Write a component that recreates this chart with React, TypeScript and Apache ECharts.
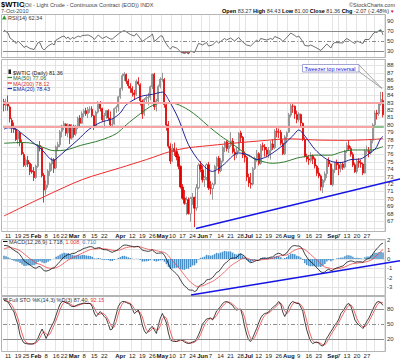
import React, { useEffect, useRef } from "react";
import * as echarts from "echarts";

// ---------------- data ----------------
// daily bars: [day, open, high, low, close]
const jan2010 = [
  [7, 83.1, 83.5, 81.8, 82.66], [8, 82.6, 83.5, 81.9, 82.75], [11, 82.9, 83.95, 81.9, 82.52],
  [12, 82.4, 82.6, 80.3, 80.79], [13, 80.6, 80.9, 78.9, 79.65], [14, 79.5, 80.3, 78.9, 79.39],
  [15, 79.4, 79.6, 77.8, 78.0], [19, 78.1, 79.2, 77.4, 79.02], [20, 78.9, 79.1, 77.1, 77.62],
  [21, 77.6, 78.0, 75.9, 76.08], [22, 76.0, 76.3, 74.3, 74.54], [25, 74.6, 75.6, 74.3, 75.26],
  [26, 75.2, 75.8, 74.3, 74.71], [27, 74.8, 75.0, 73.2, 73.67], [28, 73.8, 74.7, 73.4, 73.64],
  [29, 73.7, 74.3, 72.4, 72.89],
];
const feb2010 = [
  [1, 72.9, 74.6, 72.7, 74.43], [2, 74.4, 77.4, 74.2, 77.23], [3, 77.2, 77.8, 76.4, 76.98],
  [4, 76.9, 77.0, 72.9, 73.14], [5, 73.2, 73.5, 69.5, 71.19], [8, 71.3, 72.5, 70.6, 71.89],
  [9, 71.9, 74.0, 71.5, 73.75], [10, 73.7, 74.9, 73.1, 74.74], [11, 74.7, 75.6, 73.8, 75.28],
  [12, 75.3, 75.5, 73.5, 74.13], [16, 74.2, 77.2, 74.0, 77.01], [17, 77.0, 77.7, 76.5, 77.33],
  [18, 77.3, 79.3, 77.0, 79.06], [19, 79.1, 80.0, 78.3, 79.81], [22, 79.8, 80.5, 79.3, 80.16],
  [23, 80.1, 80.2, 78.5, 78.86], [24, 78.9, 80.2, 78.3, 80.0], [25, 80.0, 80.1, 77.4, 78.17],
  [26, 78.2, 80.1, 78.0, 79.66],
];
const mar2010 = [
  [1, 79.6, 80.0, 78.3, 78.7], [2, 78.8, 80.0, 78.5, 79.68], [3, 79.7, 81.1, 79.4, 80.87],
  [4, 80.9, 81.3, 79.8, 80.21], [5, 80.2, 81.8, 80.1, 81.5], [8, 81.5, 82.1, 81.0, 81.87],
  [9, 81.9, 82.3, 81.2, 81.49], [10, 81.5, 82.4, 80.9, 82.09], [11, 82.1, 82.5, 81.6, 82.11],
  [12, 82.1, 82.5, 81.0, 81.24], [15, 81.2, 81.3, 79.3, 79.8], [16, 79.8, 81.9, 79.7, 81.7],
  [17, 81.7, 83.2, 81.5, 82.93], [18, 82.9, 83.2, 81.8, 82.2], [19, 82.2, 82.3, 80.4, 80.68],
  [22, 80.6, 81.6, 79.5, 81.25], [23, 81.2, 82.0, 80.8, 81.91], [24, 81.9, 82.1, 80.6, 80.91],
  [25, 80.9, 81.8, 79.8, 80.0], [26, 80.0, 80.9, 79.6, 80.02], [29, 80.1, 82.3, 80.0, 82.17],
  [30, 82.2, 82.6, 81.6, 82.37], [31, 82.4, 83.9, 81.8, 83.76],
];
const apr2010 = [
  [1, 83.8, 85.0, 83.5, 84.87], [5, 84.9, 86.9, 84.6, 86.62], [6, 86.6, 87.1, 85.9, 86.84],
  [7, 86.8, 86.9, 85.5, 85.88], [8, 85.9, 86.2, 84.9, 85.26], [9, 85.2, 85.6, 84.3, 84.92],
  [12, 84.9, 85.2, 83.8, 84.34], [13, 84.3, 84.7, 83.4, 84.05], [14, 84.1, 86.1, 83.9, 85.84],
  [15, 85.8, 86.4, 85.3, 85.51], [16, 85.4, 85.6, 82.6, 83.24], [19, 83.2, 83.4, 80.8, 81.45],
  [20, 81.5, 83.6, 81.2, 83.45], [21, 83.4, 84.0, 82.8, 83.68], [22, 83.6, 84.3, 82.6, 83.7],
  [23, 83.7, 85.3, 83.3, 85.12], [26, 85.1, 86.9, 84.8, 86.84], [27, 86.8, 87.0, 82.0, 82.44],
  [28, 82.4, 83.5, 81.8, 83.22], [29, 83.2, 85.4, 83.0, 85.17], [30, 85.2, 86.4, 84.9, 86.15],
];
const may2010 = [
  [3, 86.1, 87.0, 85.8, 86.19], [4, 86.1, 86.3, 82.3, 82.74], [5, 82.7, 83.0, 79.2, 79.97],
  [6, 80.0, 80.5, 76.8, 77.11], [7, 77.1, 77.5, 74.7, 75.11], [10, 75.1, 77.4, 75.0, 76.8],
  [11, 76.8, 77.6, 75.8, 76.37], [12, 76.4, 76.9, 75.2, 75.65], [13, 75.7, 76.1, 74.0, 74.39],
  [14, 74.4, 74.5, 71.4, 71.61], [17, 71.6, 72.0, 69.9, 70.08], [18, 70.1, 71.2, 69.2, 69.41],
  [19, 69.4, 70.3, 67.8, 69.87], [20, 69.9, 70.2, 67.9, 68.01], [21, 68.0, 70.3, 66.9, 70.04],
  [24, 70.0, 70.8, 69.2, 70.21], [25, 70.2, 70.3, 66.2, 68.75], [26, 68.8, 72.0, 68.4, 71.51],
  [27, 71.5, 74.8, 71.3, 74.55], [28, 74.6, 75.1, 73.6, 74.0],
];
const jun2010 = [
  [1, 73.9, 74.5, 72.2, 72.58], [2, 72.6, 73.1, 71.6, 72.86], [3, 72.9, 74.8, 72.5, 74.61],
  [4, 74.6, 75.0, 71.2, 71.51], [7, 71.5, 72.4, 70.6, 71.44], [8, 71.4, 72.2, 69.9, 71.99],
  [9, 72.0, 74.6, 71.8, 74.38], [10, 74.4, 75.7, 74.0, 75.48], [11, 75.5, 75.8, 73.4, 73.78],
  [14, 73.8, 75.5, 73.6, 75.12], [15, 75.1, 77.2, 74.9, 76.94], [16, 76.9, 77.8, 76.3, 77.67],
  [17, 77.7, 77.9, 76.4, 76.79], [18, 76.8, 77.6, 76.2, 77.18], [21, 77.2, 79.0, 77.0, 77.81],
  [22, 77.8, 78.2, 76.1, 76.35], [23, 76.3, 76.8, 75.2, 75.96], [24, 76.0, 77.0, 75.5, 76.51],
  [25, 76.5, 79.0, 76.3, 78.86], [28, 78.9, 79.2, 77.6, 78.26], [29, 78.3, 78.5, 75.5, 75.94],
  [30, 75.9, 76.4, 74.9, 75.63],
];
const jul2010 = [
  [1, 75.6, 75.8, 72.4, 72.95], [2, 72.9, 73.4, 71.6, 72.14], [6, 72.1, 73.5, 71.4, 71.98],
  [7, 72.0, 74.3, 71.8, 74.07], [8, 74.1, 75.7, 73.9, 75.44], [9, 75.4, 76.6, 75.0, 76.09],
  [12, 76.1, 76.3, 74.5, 74.78], [13, 74.8, 77.4, 74.6, 77.17], [14, 77.2, 77.6, 76.5, 77.04],
  [15, 77.0, 77.4, 75.7, 76.62], [16, 76.6, 77.0, 75.6, 76.01], [19, 76.0, 77.0, 75.5, 76.54],
  [20, 76.5, 77.8, 75.3, 77.44], [21, 77.4, 78.0, 76.6, 76.9], [22, 76.9, 79.4, 76.7, 79.14],
  [23, 79.1, 79.6, 78.3, 78.98], [26, 79.0, 79.5, 78.2, 78.99], [27, 79.0, 79.3, 77.2, 77.5],
  [28, 77.5, 78.0, 75.9, 76.09], [29, 76.1, 78.6, 75.9, 78.36], [30, 78.4, 79.1, 77.5, 78.95],
];
const aug2010 = [
  [2, 79.0, 81.6, 78.9, 81.34], [3, 81.3, 82.9, 81.0, 82.55], [4, 82.5, 83.0, 81.6, 82.49],
  [5, 82.5, 82.6, 80.8, 81.46], [6, 81.4, 81.9, 80.2, 80.7], [9, 80.7, 81.7, 80.4, 81.48],
  [10, 81.4, 81.5, 79.8, 80.25], [11, 80.2, 80.3, 77.8, 78.02], [12, 78.0, 78.3, 75.6, 75.74],
  [13, 75.7, 76.1, 75.0, 75.39], [16, 75.4, 75.9, 74.6, 75.24], [17, 75.2, 76.3, 74.9, 75.77],
  [18, 75.8, 76.0, 74.7, 75.37], [19, 75.4, 75.6, 74.1, 74.43], [20, 74.4, 74.6, 73.1, 73.46],
  [23, 73.5, 74.2, 72.8, 73.1], [24, 73.1, 73.3, 71.1, 71.63], [25, 71.6, 72.7, 70.8, 72.52],
  [26, 72.5, 73.7, 72.2, 73.36], [27, 73.4, 75.3, 72.8, 75.17], [30, 75.2, 75.6, 74.3, 74.7],
  [31, 74.7, 74.8, 71.9, 71.92],
];
const sep2010 = [
  [1, 71.9, 74.1, 71.7, 73.91], [2, 73.9, 75.0, 73.5, 74.91], [3, 74.9, 75.3, 73.9, 74.6],
  [7, 74.6, 75.0, 73.2, 74.09], [8, 74.1, 75.0, 73.6, 74.67], [9, 74.7, 75.0, 73.9, 74.25],
  [10, 74.3, 76.6, 74.1, 76.45], [13, 76.5, 77.6, 76.2, 77.19], [14, 77.2, 77.9, 76.5, 76.8],
  [15, 76.8, 77.1, 75.7, 76.02], [16, 76.0, 76.3, 74.3, 74.57], [17, 74.6, 74.9, 73.5, 73.66],
  [20, 73.7, 75.3, 73.4, 75.08], [21, 75.1, 75.5, 74.2, 74.86], [22, 74.9, 75.3, 74.2, 74.71],
  [23, 74.7, 74.9, 73.2, 73.51], [24, 73.5, 76.7, 73.4, 76.49], [27, 76.4, 77.2, 76.0, 76.52],
  [28, 76.5, 77.0, 75.6, 76.18], [29, 76.2, 78.1, 76.0, 77.86], [30, 77.9, 80.2, 77.5, 79.97],
];
const oct2010 = [
  [1, 80.0, 81.9, 79.7, 81.58], [4, 81.6, 82.0, 80.7, 81.47], [5, 81.5, 83.0, 81.2, 82.82],
  [6, 82.8, 84.45, 82.6, 83.43], [7, 83.27, 84.43, 81.0, 81.36],
];
const monthRows: [string, number[][]][] = [
  ["Jan", jan2010], ["Feb", feb2010], ["Mar", mar2010], ["Apr", apr2010], ["May", may2010],
  ["Jun", jun2010], ["Jul", jul2010], ["Aug", aug2010], ["Sep", sep2010], ["Oct", oct2010],
];

// overlays: [date, value]
const ma50 = [
  ["Jan 7", 77.5], ["Jan 20", 77.6], ["Jan 28", 77.5], ["Feb 4", 77.0], ["Feb 12", 76.5], ["Feb 23", 76.6],
  ["Mar 4", 77.2], ["Mar 18", 77.9], ["Mar 30", 78.8], ["Apr 7", 80.0], ["Apr 16", 81.5], ["Apr 26", 82.6],
  ["May 4", 83.0], ["May 12", 82.8], ["May 20", 82.0], ["May 27", 81.0], ["Jun 4", 79.8], ["Jun 14", 78.5],
  ["Jun 22", 77.4], ["Jul 1", 76.0], ["Jul 9", 75.3], ["Jul 16", 74.9], ["Jul 21", 74.8], ["Jul 29", 75.0],
  ["Aug 6", 75.5], ["Aug 12", 75.7], ["Aug 19", 75.9], ["Aug 31", 75.9], ["Sep 8", 76.3], ["Sep 16", 76.6],
  ["Sep 29", 76.6], ["Oct 7", 77.06],
];
const ma200 = [
  ["Jan 7", 67.7], ["Feb 5", 70.3], ["Mar 5", 72.6], ["Apr 1", 74.2], ["Apr 21", 75.3], ["May 7", 76.4],
  ["May 20", 76.9], ["Jun 1", 77.1], ["Jun 22", 77.5], ["Jul 16", 77.9], ["Aug 2", 78.1], ["Aug 19", 77.95],
  ["Sep 10", 77.9], ["Sep 29", 78.0], ["Oct 7", 78.12],
];
const ema20 = [
  ["Jan 7", 79.4], ["Jan 11", 79.6], ["Jan 15", 79.4], ["Jan 21", 78.8], ["Jan 28", 77.7], ["Feb 4", 76.6],
  ["Feb 10", 75.4], ["Feb 12", 75.2], ["Feb 16", 75.4], ["Feb 23", 76.6], ["Mar 3", 78.0], ["Mar 10", 79.3],
  ["Mar 18", 80.3], ["Mar 26", 80.8], ["Apr 1", 81.6], ["Apr 7", 82.7], ["Apr 16", 83.8], ["Apr 26", 84.1],
  ["May 3", 84.4], ["May 6", 83.4], ["May 13", 80.8], ["May 20", 77.3], ["May 28", 74.9], ["Jun 8", 73.7],
  ["Jun 15", 74.5], ["Jun 25", 76.2], ["Jul 2", 75.9], ["Jul 9", 75.3], ["Jul 16", 75.7], ["Jul 27", 77.0],
  ["Aug 4", 78.5], ["Aug 9", 79.3], ["Aug 12", 78.5], ["Aug 19", 76.7], ["Aug 26", 75.5], ["Sep 1", 75.0],
  ["Sep 8", 74.9], ["Sep 15", 75.3], ["Sep 22", 75.4], ["Sep 27", 75.9], ["Oct 1", 76.7], ["Oct 4", 77.1],
  ["Oct 5", 77.7], ["Oct 6", 78.2], ["Oct 7", 78.43],
];
const levelLines = [83.0, 79.75];

const rsi14 = [
  ["Jan 7", 72], ["Jan 11", 66], ["Jan 12", 56], ["Jan 14", 50], ["Jan 15", 45], ["Jan 19", 50], ["Jan 21", 42],
  ["Jan 22", 37], ["Jan 25", 40], ["Jan 27", 35], ["Jan 29", 33], ["Feb 2", 47], ["Feb 3", 46], ["Feb 4", 36],
  ["Feb 5", 32], ["Feb 9", 40], ["Feb 11", 45], ["Feb 12", 42], ["Feb 16", 52], ["Feb 19", 59], ["Feb 22", 60],
  ["Feb 23", 55], ["Feb 24", 58], ["Feb 25", 53], ["Feb 26", 57], ["Mar 1", 55], ["Mar 3", 60], ["Mar 4", 58],
  ["Mar 5", 61], ["Mar 10", 62], ["Mar 12", 58], ["Mar 15", 53], ["Mar 17", 62], ["Mar 19", 55], ["Mar 23", 59],
  ["Mar 25", 54], ["Mar 26", 54], ["Mar 31", 64], ["Apr 1", 67], ["Apr 6", 71], ["Apr 9", 63], ["Apr 13", 60],
  ["Apr 14", 65], ["Apr 16", 55], ["Apr 19", 49], ["Apr 21", 55], ["Apr 23", 60], ["Apr 26", 64], ["Apr 27", 49],
  ["Apr 30", 60], ["May 3", 60], ["May 4", 50], ["May 5", 44], ["May 6", 38], ["May 7", 34], ["May 10", 39],
  ["May 12", 36], ["May 13", 33], ["May 14", 28], ["May 18", 25], ["May 19", 27], ["May 20", 24], ["May 21", 30],
  ["May 25", 27], ["May 26", 36], ["May 27", 45], ["May 28", 44], ["Jun 1", 42], ["Jun 3", 47], ["Jun 4", 40],
  ["Jun 8", 42], ["Jun 10", 50], ["Jun 11", 46], ["Jun 16", 55], ["Jun 17", 52], ["Jun 21", 56], ["Jun 23", 50],
  ["Jun 25", 57], ["Jun 29", 48], ["Jul 1", 42], ["Jul 6", 40], ["Jul 9", 52], ["Jul 12", 48], ["Jul 13", 55],
  ["Jul 16", 52], ["Jul 20", 55], ["Jul 21", 53], ["Jul 22", 59], ["Jul 27", 54], ["Jul 28", 49], ["Jul 30", 57],
  ["Aug 3", 66], ["Aug 5", 61], ["Aug 6", 58], ["Aug 9", 60], ["Aug 11", 49], ["Aug 12", 41], ["Aug 16", 40],
  ["Aug 17", 42], ["Aug 20", 36], ["Aug 24", 31], ["Aug 27", 44], ["Aug 31", 36], ["Sep 1", 44], ["Sep 2", 47],
  ["Sep 9", 46], ["Sep 10", 52], ["Sep 13", 55], ["Sep 16", 47], ["Sep 17", 45], ["Sep 20", 50], ["Sep 23", 45],
  ["Sep 24", 53], ["Sep 28", 53], ["Sep 29", 58], ["Sep 30", 64], ["Oct 1", 68], ["Oct 4", 67], ["Oct 5", 71],
  ["Oct 6", 72.5], ["Oct 7", 62.34],
];
const rsiOversold = [["May 14", 28], ["May 18", 25], ["May 19", 27], ["May 20", 24], ["May 21", 30], ["May 25", 27]];
const rsiOverbought = [["Oct 5", 71], ["Oct 6", 72.5]];

const macdLine = [
  1.45, 1.45, 1.4, 1.3, 1.1, 0.95, 0.8, 0.7, 0.45, 0.15, -0.2, -0.35, -0.5, -0.65, -0.8, -0.95,
  -1.0, -0.85, -0.8, -1.05, -1.25, -1.3, -1.25, -1.15, -1.0, -0.95, -0.7, -0.5, -0.25, 0.0, 0.25, 0.35, 0.5, 0.5, 0.6,
  0.6, 0.7, 0.85, 0.9, 1.05, 1.15, 1.2, 1.28, 1.33, 1.3, 1.15, 1.15, 1.22, 1.2, 1.05, 1.0, 1.0, 0.92, 0.8, 0.72, 0.82, 0.9, 1.05,
  1.2, 1.4, 1.5, 1.5, 1.45, 1.4, 1.35, 1.3, 1.35, 1.35, 1.2, 0.95, 0.9, 0.85, 0.82, 0.88, 1.0, 0.75, 0.62, 0.62, 0.65,
  0.65, 0.4, 0.0, -0.5, -1.0, -1.2, -1.4, -1.6, -1.85, -2.25, -2.6, -2.9, -3.05, -3.3, -3.35, -3.35, -3.5, -3.4, -3.0, -2.8,
  -2.7, -2.55, -2.25, -2.2, -2.15, -2.0, -1.75, -1.45, -1.35, -1.1, -0.8, -0.5, -0.35, -0.15, 0.05, 0.1, 0.1, 0.15, 0.4, 0.55, 0.45, 0.3,
  0.0, -0.25, -0.4, -0.35, -0.25, -0.15, -0.15, 0.0, 0.08, 0.1, 0.08, 0.12, 0.2, 0.22, 0.42, 0.55, 0.62, 0.55, 0.4, 0.5, 0.65,
  0.95, 1.25, 1.4, 1.45, 1.4, 1.4, 1.3, 1.0, 0.55, 0.2, -0.1, -0.3, -0.5, -0.7, -0.95, -1.15, -1.4, -1.45, -1.4, -1.2, -1.1, -1.25,
  -1.2, -1.05, -0.95, -0.9, -0.8, -0.75, -0.55, -0.35, -0.25, -0.2, -0.25, -0.35, -0.3, -0.3, -0.3, -0.35, -0.15, 0.0, 0.05, 0.25, 0.55,
  0.9, 1.1, 1.35, 1.6, 1.718,
];
const macdSignal = [
  1.09, 1.16, 1.21, 1.23, 1.2, 1.15, 1.08, 1.0, 0.89, 0.74, 0.55, 0.37, 0.2, 0.03, -0.12, -0.29,
  -0.43, -0.52, -0.57, -0.67, -0.78, -0.89, -0.96, -1.0, -1.0, -0.99, -0.93, -0.84, -0.73, -0.58, -0.42, -0.26, -0.11, 0.01, 0.13,
  0.22, 0.32, 0.42, 0.52, 0.63, 0.73, 0.82, 0.92, 1.0, 1.06, 1.08, 1.09, 1.12, 1.13, 1.12, 1.09, 1.08, 1.04, 1.0, 0.94, 0.92, 0.91, 0.94,
  0.99, 1.07, 1.16, 1.23, 1.27, 1.3, 1.31, 1.31, 1.32, 1.32, 1.3, 1.23, 1.16, 1.1, 1.04, 1.01, 1.01, 0.96, 0.89, 0.84, 0.8,
  0.77, 0.7, 0.56, 0.35, 0.08, -0.18, -0.42, -0.66, -0.9, -1.17, -1.45, -1.74, -2.0, -2.26, -2.48, -2.65, -2.82, -2.94, -2.95, -2.92,
  -2.88, -2.81, -2.7, -2.6, -2.51, -2.41, -2.28, -2.11, -1.96, -1.79, -1.59, -1.37, -1.17, -0.96, -0.76, -0.59, -0.45, -0.33, -0.18, -0.03, 0.07, 0.12,
  0.1, 0.03, -0.06, -0.12, -0.14, -0.14, -0.14, -0.11, -0.07, -0.04, -0.02, 0.01, 0.05, 0.08, 0.15, 0.23, 0.31, 0.36, 0.37, 0.39, 0.44,
  0.54, 0.69, 0.83, 0.95, 1.04, 1.11, 1.15, 1.12, 1.01, 0.85, 0.66, 0.47, 0.27, 0.08, -0.13, -0.33, -0.55, -0.73, -0.86, -0.93, -0.96, -1.02,
  -1.06, -1.06, -1.04, -1.01, -0.97, -0.92, -0.85, -0.75, -0.65, -0.56, -0.5, -0.47, -0.44, -0.41, -0.39, -0.38, -0.33, -0.27, -0.21, -0.12, 0.01,
  0.22, 0.42, 0.62, 0.83, 1.008,
];
const macdHist = [
  0.36, 0.29, 0.19, 0.07, -0.1, -0.2, -0.28, -0.3, -0.44, -0.59, -0.75, -0.72, -0.7, -0.68, -0.68, -0.66,
  -0.57, -0.33, -0.23, -0.38, -0.47, -0.41, -0.29, -0.15, 0.0, 0.04, 0.23, 0.34, 0.48, 0.58, 0.67, 0.61, 0.61, 0.49, 0.47,
  0.38, 0.38, 0.43, 0.38, 0.42, 0.42, 0.38, 0.36, 0.33, 0.24, 0.07, 0.06, 0.1, 0.07, -0.07, -0.09, -0.08, -0.12, -0.2, -0.22, -0.1, -0.01, 0.11,
  0.21, 0.33, 0.34, 0.27, 0.18, 0.1, 0.04, -0.01, 0.03, 0.03, -0.1, -0.28, -0.26, -0.25, -0.22, -0.13, -0.01, -0.21, -0.27, -0.22, -0.15,
  -0.12, -0.3, -0.56, -0.85, -1.08, -1.02, -0.98, -0.94, -0.95, -1.08, -1.15, -1.16, -1.05, -1.04, -0.87, -0.7, -0.68, -0.46, -0.05, 0.12,
  0.18, 0.26, 0.45, 0.4, 0.36, 0.41, 0.53, 0.66, 0.61, 0.69, 0.79, 0.87, 0.82, 0.81, 0.81, 0.69, 0.55, 0.48, 0.58, 0.58, 0.38, 0.18,
  -0.1, -0.28, -0.34, -0.23, -0.11, -0.01, -0.01, 0.11, 0.15, 0.14, 0.1, 0.11, 0.15, 0.14, 0.27, 0.32, 0.31, 0.19, 0.03, 0.11, 0.21,
  0.41, 0.56, 0.57, 0.5, 0.36, 0.29, 0.15, -0.12, -0.46, -0.65, -0.76, -0.77, -0.77, -0.78, -0.82, -0.82, -0.85, -0.72, -0.54, -0.27, -0.14, -0.23,
  -0.14, 0.01, 0.09, 0.11, 0.17, 0.17, 0.3, 0.4, 0.4, 0.36, 0.25, 0.12, 0.14, 0.11, 0.09, 0.03, 0.18, 0.27, 0.26, 0.37, 0.54,
  0.68, 0.68, 0.73, 0.77, 0.71,
];
const stoK = [
  97, 96, 94, 87, 80, 74, 60, 48, 28, 18, 12, 11, 10, 10, 10, 11,
  15, 22, 32, 40, 31, 21, 30, 40, 48, 56, 68, 80, 90, 95, 95, 92, 91, 87, 85,
  85, 87, 89, 90, 91, 92, 91, 91, 91, 85, 72, 65, 70, 75, 70, 65, 61, 50, 38, 40, 55, 70, 85,
  92, 95, 95, 93, 91, 90, 80, 71, 74, 78, 66, 48, 36, 31, 36, 42, 45, 38, 31, 48, 62,
  71, 62, 52, 32, 18, 16, 15, 15, 17, 19, 17, 14, 12, 11, 12, 14, 15, 20, 28, 38,
  50, 55, 60, 61, 62, 58, 66, 76, 80, 85, 91, 94, 95, 93, 90, 87, 81, 78, 79, 80, 65, 45,
  30, 18, 15, 22, 32, 41, 52, 62, 68, 71, 72, 74, 79, 83, 86, 90, 95, 90, 74, 65, 73,
  85, 92, 95, 93, 91, 91, 84, 75, 55, 38, 25, 15, 11, 13, 14, 12, 7, 6, 12, 22, 28, 35,
  41, 48, 53, 60, 71, 76, 82, 89, 91, 85, 72, 58, 52, 48, 45, 41, 48, 56, 62, 71, 80,
  88, 94, 95, 92, 87.4,
];
const stoD = [
  97, 96.5, 95.7, 92.3, 87, 80.3, 71.3, 60.7, 45.3, 31.3, 19.3, 13.7, 11, 10.3, 10, 10.3,
  12, 16, 23, 31.3, 34.3, 30.7, 27.3, 30.3, 39.3, 48, 57.3, 68, 79.3, 88.3, 93.3, 94, 92.7, 90, 87.7,
  85.7, 85.7, 87, 88.7, 90, 91, 91.3, 91.3, 91, 89, 82.7, 74, 69, 70, 71.7, 70, 65.3, 58.7, 49.7, 42.7, 44.3, 55, 70,
  82.3, 90.7, 94, 94.3, 93, 91.3, 87, 80.3, 75, 74.3, 72.7, 64, 50, 38.3, 34.3, 36.3, 41, 41.7, 38, 39, 47,
  60.3, 65, 61.7, 48.7, 34, 22, 16.3, 15.3, 15.7, 17, 17.7, 16.7, 14.3, 12.3, 11.7, 12.3, 13.7, 16.3, 21, 28.7,
  38.7, 47.7, 55, 58.7, 61, 60.3, 62, 66.7, 74, 80.3, 85.3, 90, 93.3, 94, 92.7, 90, 86, 82, 79.3, 79, 74.7, 63.3,
  46.7, 31, 21, 18.3, 23, 31.7, 41.7, 51.7, 60.7, 67, 70.3, 72.3, 75, 78.7, 82.7, 86.3, 90.3, 91.7, 86.3, 76.3, 70.7,
  74.3, 83.3, 90.7, 93.3, 93, 91.7, 88.7, 83.3, 71.3, 56, 39.3, 26, 17, 13, 12.7, 13, 11, 8.3, 8.3, 13.3, 20.7, 28.3,
  34.7, 41.3, 47.3, 53.7, 61.3, 69, 76.3, 82.3, 87.3, 88.3, 82.7, 71.7, 60.7, 52.7, 48.3, 44.7, 44.7, 48.3, 55.3, 63, 71,
  79.7, 87.3, 92.3, 93.7, 92.15,
];

// axis labels (the "Jul" label is anchored one session later so it does not collide with "28")
const xLabelDates = [
  "Jan 11", "Jan 19", "Jan 25", "Feb 1", "Feb 8", "Feb 16", "Feb 22", "Mar 1", "Mar 8", "Mar 15", "Mar 22",
  "Apr 1", "Apr 12", "Apr 19", "Apr 26", "May 3", "May 10", "May 17", "May 24", "Jun 1", "Jun 7", "Jun 14",
  "Jun 21", "Jun 28", "Jul 2", "Jul 12", "Jul 19", "Jul 26", "Aug 2", "Aug 9", "Aug 16", "Aug 23", "Sep 1",
  "Sep 7", "Sep 13", "Sep 20", "Sep 27", "Oct 1",
];
const xLabelTexts = [
  "11", "19", "25", "Feb", "8", "16", "22", "Mar", "8", "15", "22", "Apr", "12", "19", "26", "May", "10",
  "17", "24", "Jun", "7", "14", "21", "28", "Jul", "12", "19", "26", "Aug", "9", "16", "23", "Sep", "7",
  "13", "20", "27", "Oct",
];
const priceGridValues = [66, 67, 68, 69, 70, 71, 72, 73, 74, 75, 76, 77, 78, 79, 80, 81, 82, 83, 84, 85, 86, 87, 88];
const priceLabels = [67, 68, 69, 70, 71, 72, 73, 74, 75, 76, 77, 78, 79, 80, 81, 82, 83, 84, 85, 86, 87, 88];
const rsiLabels = [30, 50, 70, 90];
const macdLabels = [-3, -2, -1, 0, 1, 2];
const stoLabels = [20, 50, 80];

// ---------------- chart ----------------
const FONT = "'Liberation Sans', Arial, Helvetica, sans-serif";
const GRID_LINE = "#e4e4e4";
const MONTHS = new Set(["Feb", "Mar", "Apr", "May", "Jun", "Jul", "Aug", "Sep", "Oct"]);

function buildOption() {
  const categories: string[] = [];
  const candleData: number[][] = [];
  monthRows.forEach(([m, rows]) =>
    rows.forEach((r) => {
      categories.push(m + " " + r[0]);
      candleData.push([r[1], r[4], r[3], r[2]]);
    })
  );
  const labelMap = new Map<string, string>();
  xLabelDates.forEach((d, i) => labelMap.set(d, xLabelTexts[i]));
  const gridDates = new Set(xLabelDates.map((d) => (d === "Jul 2" ? "Jul 1" : d)));
  const dated = (arr: number[]) => arr.map((v, i) => [categories[i], v]);

  const grids = [
    { top: 14, height: 43 },
    { top: 59, height: 172 },
    { top: 239, height: 56 },
    { top: 296, height: 55 },
  ].map((g) => ({ left: 3, right: 16, top: g.top, height: g.height, containLabel: false, outerBoundsMode: "none" }));

  const xAxis = [0, 1, 2, 3].map((gi) => ({
    type: "category",
    gridIndex: gi,
    data: categories,
    boundaryGap: true,
    axisLine: { show: false },
    axisTick: { show: false },
    splitLine: {
      show: true,
      interval: (_i: number, v: string) => gridDates.has(v),
      lineStyle: { color: GRID_LINE, width: 1 },
    },
    axisLabel: {
      show: gi === 1 || gi === 3,
      interval: (_i: number, v: string) => labelMap.has(v),
      hideOverlap: false,
      formatter: (v: string) => {
        const t = labelMap.get(v) || "";
        return MONTHS.has(t) ? "{b|" + t + "}" : t;
      },
      fontSize: 6,
      color: "#222",
      fontFamily: FONT,
      margin: 2,
      rich: { b: { fontSize: 6, fontWeight: "bold", color: "#111", fontFamily: FONT } },
    },
  }));

  const yAx = (gi: number, min: number, max: number, labels: number[], grid: number[] | null) => ({
    type: "value",
    gridIndex: gi,
    position: "right",
    min,
    max,
    axisLine: { show: false },
    axisTick: { show: false, customValues: grid || labels },
    splitLine: { show: !!grid, lineStyle: { color: GRID_LINE, width: 1 } },
    axisLabel: {
      customValues: labels,
      fontSize: 6,
      color: "#333",
      fontFamily: FONT,
      margin: 3,
      hideOverlap: false,
    },
  });
  const yAxis = [
    yAx(0, 18, 104, rsiLabels, null),
    yAx(1, 65.67, 88.87, priceLabels, priceGridValues),
    yAx(2, -3.871, 2.151, macdLabels, macdLabels),
    yAx(3, -4, 106, stoLabels, null),
  ];

  const ml = (items: any[]) => ({
    symbol: "none",
    silent: true,
    label: { show: false },
    animation: false,
    data: items,
  });
  const refLine = (v: number, dashed: boolean) => ({
    yAxis: v,
    lineStyle: { color: "#8c8c8c", width: 1, type: dashed ? [4, 2, 1, 2] : "solid" },
  });

  const series: any[] = [
    {
      type: "line", xAxisIndex: 0, yAxisIndex: 0, data: rsi14, symbol: "none",
      lineStyle: { color: "#4a4a4a", width: 0.8 }, z: 3,
      markLine: ml([refLine(70, false), refLine(50, true), refLine(30, false)]),
    },
    {
      type: "line", xAxisIndex: 0, yAxisIndex: 0, data: rsiOversold, symbol: "none",
      lineStyle: { width: 0 }, areaStyle: { origin: 30, color: "#cc3b3b", opacity: 0.85 }, z: 2,
    },
    {
      type: "line", xAxisIndex: 0, yAxisIndex: 0, data: rsiOverbought, symbol: "none",
      lineStyle: { width: 0 }, areaStyle: { origin: 70, color: "#2e9a2e", opacity: 0.85 }, z: 2,
    },
    {
      type: "candlestick", xAxisIndex: 1, yAxisIndex: 1, data: candleData, barWidth: 1.6,
      itemStyle: { color: "#ffffff", color0: "#e00000", borderColor: "#7d7d7d", borderColor0: "#e00000", borderWidth: 0.8 },
      z: 3,
      markLine: ml([
        ...levelLines.map((v) => ({ yAxis: v, lineStyle: { color: "#f5a3a3", width: 2, type: "solid" } })),
        [
          { coord: ["Sep 30", levelLines[1]], lineStyle: { color: "#8dbf8d", width: 2, type: "solid" } },
          { coord: ["Oct 7", levelLines[1]] },
        ],
      ]),
    },
    { type: "line", xAxisIndex: 1, yAxisIndex: 1, data: ma200, symbol: "none", smooth: 0.3, lineStyle: { color: "#ee2a2a", width: 1 }, z: 4 },
    { type: "line", xAxisIndex: 1, yAxisIndex: 1, data: ma50, symbol: "none", smooth: 0.3, lineStyle: { color: "#2f7d2f", width: 1 }, z: 4 },
    { type: "line", xAxisIndex: 1, yAxisIndex: 1, data: ema20, symbol: "none", smooth: 0.3, lineStyle: { color: "#22229a", width: 1 }, z: 4 },
    {
      type: "bar", xAxisIndex: 2, yAxisIndex: 2, data: dated(macdHist), barWidth: 1.5,
      itemStyle: { color: "#4a90c6" }, z: 2,
    },
    { type: "line", xAxisIndex: 2, yAxisIndex: 2, data: dated(macdSignal), symbol: "none", lineStyle: { color: "#f04545", width: 0.8 }, z: 3 },
    { type: "line", xAxisIndex: 2, yAxisIndex: 2, data: dated(macdLine), symbol: "none", lineStyle: { color: "#111111", width: 0.8 }, z: 4 },
    {
      type: "line", xAxisIndex: 3, yAxisIndex: 3, data: dated(stoD), symbol: "none",
      lineStyle: { color: "#f03c3c", width: 0.8 }, z: 3,
      markLine: ml([refLine(80, false), refLine(50, true), refLine(20, false)]),
    },
    { type: "line", xAxisIndex: 3, yAxisIndex: 3, data: dated(stoK), symbol: "none", lineStyle: { color: "#111111", width: 0.8 }, z: 4 },
  ];

  const txt = (x: number, y: number, text: string, style: any = {}, z = 100) => ({
    type: "text", x, y, z,
    style: { text, fontSize: 5.5, fill: "#333", fontFamily: FONT, verticalAlign: "top", align: "left", ...style },
  });
  const hline = (x1: number, x2: number, y: number, stroke: string, w = 1) => ({
    type: "line", z: 100, shape: { x1, y1: y, x2, y2: y }, style: { stroke, lineWidth: w },
  });
  const frame = (y: number, h: number) => ({
    type: "rect", z: 90, shape: { x: 1.5, y: y + 0.5, width: 384, height: h },
    style: { fill: "none", stroke: "#b5b5b5", lineWidth: 1 },
  });

  const graphic: any[] = [
    frame(14, 43), frame(59, 172), frame(239, 56), frame(296, 55),
    // header
    txt(1, 0.8, "$WTIC", { fontSize: 7.5, fontWeight: "bold", fill: "#000" }),
    txt(23, 1.8, "(Oil - Light Crude - Continuous Contract (EOD)) INDX", { fill: "#444" }),
    txt(1, 8.4, "7-Oct-2010", { fill: "#444" }),
    txt(395, 1.5, "©StockCharts.com", { align: "right", fill: "#444" }),
    txt(389, 8.2, "{b|Open} 83.27 {b|High} 84.43 {b|Low} 81.00 {b|Close} 81.36 {b|Chg} -2.07 (-2.48%)", {
      align: "right", fill: "#333",
      rich: { b: { fontSize: 5.5, fontWeight: "bold", fill: "#000", fontFamily: FONT } },
    }),
    txt(390, 8.8, "▼", { fontSize: 4.5, fill: "#dd0000" }),
    // RSI legend
    { type: "polygon", z: 100, shape: { points: [[2, 19.5], [4.3, 15.3], [6.6, 19.5]] }, style: { fill: "#2e9a2e" } },
    txt(8, 15, "RSI(14) 62.34", { fill: "#333" }),
    // price legend
    { type: "rect", z: 100, shape: { x: 8.5, y: 69.5, width: 2.5, height: 4.5 }, style: { fill: "#222" } },
    txt(13, 69.5, "$WTIC (Daily) 81.36", { fill: "#222" }),
    hline(7.5, 12, 77.5, "#2f7d2f", 1.2),
    txt(13, 75, "MA(50) 77.06", { fill: "#2f6a2f" }),
    hline(7.5, 12, 83, "#ee2a2a", 1.2),
    txt(13, 80.5, "MA(200) 78.12", { fill: "#d03030" }),
    hline(7.5, 12, 88.5, "#22229a", 1.2),
    txt(13, 86, "EMA(20) 78.43", { fill: "#22229a" }),
    // MACD legend
    hline(3, 7.5, 241.5, "#111", 1),
    txt(9, 239, "MACD(12,26,9) 1.718, {r|1.008,} {bl|0.710}", {
      fill: "#333",
      rich: {
        r: { fontSize: 5.5, fill: "#e03a3a", fontFamily: FONT },
        bl: { fontSize: 5.5, fill: "#3a80c0", fontFamily: FONT },
      },
    }),
    // STO legend
    hline(3, 7.5, 299, "#111", 1),
    txt(9, 296.6, "Full STO %K(14,3) %D(3) 87.40, {r|92.15}", {
      fill: "#333",
      rich: { r: { fontSize: 5.5, fill: "#e03a3a", fontFamily: FONT } },
    }),
    // trend lines
    { type: "line", z: 95, shape: { x1: 196, y1: 228.5, x2: 400, y2: 179 }, style: { stroke: "#1515e6", lineWidth: 1.6 } },
    { type: "line", z: 95, shape: { x1: 191, y1: 295, x2: 400, y2: 260.7 }, style: { stroke: "#1515e6", lineWidth: 1.6 } },
    // tweezer annotation
    { type: "polyline", z: 96, shape: { points: [[359, 65], [382, 88.5], [359, 71.5]] }, style: { stroke: "#8a8a8a", lineWidth: 0.8, fill: "none" } },
    { type: "rect", z: 97, shape: { x: 302.5, y: 64.5, width: 56.5, height: 7.5 }, style: { fill: "#ffffff", stroke: "#8d8dc8", lineWidth: 0.8 } },
    txt(304.5, 65.6, "Tweezer top reversal", { fill: "#1a1ad8" }, 98),
  ];

  return {
    animation: false,
    backgroundColor: "#ffffff",
    textStyle: { fontFamily: FONT },
    grid: grids,
    xAxis,
    yAxis,
    series,
    graphic,
  };
}

export default function App() {
  const ref = useRef<HTMLDivElement>(null);
  useEffect(() => {
    if (!ref.current) return;
    const chart = echarts.init(ref.current, null, { renderer: "svg" });
    chart.setOption(buildOption() as any);
    return () => chart.dispose();
  }, []);
  return (
    <div
      ref={ref}
      style={{ position: "fixed", left: 0, top: 0, width: 400, height: 360, background: "#fff" }}
    />
  );
}
